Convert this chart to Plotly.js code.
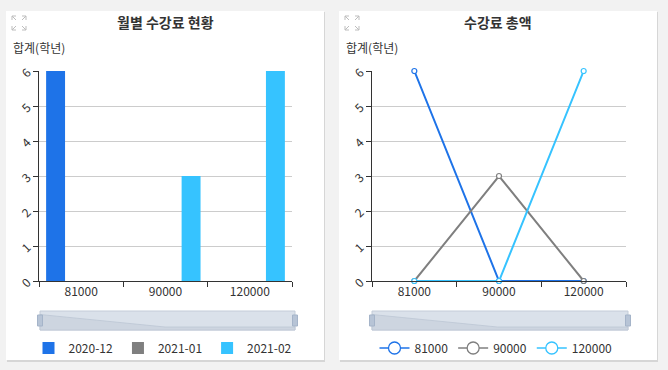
<!DOCTYPE html>
<html><head><meta charset="utf-8">
<script src="https://cdn.plot.ly/plotly-3.0.1.min.js"></script>
<style>html,body{margin:0;padding:0;background:#f2f2f2;}#chart{width:668px;height:370px;}</style>
</head><body><div id="chart"></div>
<script>
// ---- data ----
const categories = ['81000', '90000', '120000'];
const barSeriesNames = ['2020-12', '2021-01', '2021-02'];
const bar2020_12 = [6, 0, 0];
const bar2021_01 = [0, 0, 0];
const bar2021_02 = [0, 3, 6];
const lineSeriesNames = ['81000', '90000', '120000'];
const line81000 = [6, 0, 0];
const line90000 = [0, 3, 0];
const line120000 = [0, 0, 6];
const leftTitle = '월별 수강료 현황';
const rightTitle = '수강료 총액';
const yLabel = '합계(학년)';

const colors = ['#1e73e8', '#7f7f7f', '#36c3ff'];
const W = 668, H = 370;
const px = x => x / W, py = y => 1 - y / H;
const FONT = '"Noto Sans CJK KR", "Noto Sans", sans-serif';

const barVals = [bar2020_12, bar2021_01, bar2021_02];
const lineVals = [line81000, line90000, line120000];

const traces = [];
barVals.forEach((v, i) => traces.push({
  type: 'bar', x: categories, y: v, name: barSeriesNames[i],
  marker: {color: colors[i]}, xaxis: 'x', yaxis: 'y', legend: 'legend',
  hoverinfo: 'x+y+name'
}));
lineVals.forEach((v, i) => traces.push({
  type: 'scatter', mode: 'lines+markers', x: categories, y: v, name: lineSeriesNames[i],
  line: {color: colors[i], width: 2},
  marker: {symbol: 'circle', size: 5, color: '#ffffff', line: {color: colors[i], width: 1.2}},
  xaxis: 'x2', yaxis: 'y2', showlegend: false, legendgroup: 'g' + i, cliponaxis: false
}));
// legend entries for the line series (linked to the series through legendgroup)
lineSeriesNames.forEach((n, i) => traces.push({
  type: 'scatter', mode: 'lines+markers', x: [null], y: [null], name: n,
  line: {color: colors[i], width: 1.3},
  marker: {symbol: 'circle', size: 12, color: '#ffffff', line: {color: colors[i], width: 1.3}},
  xaxis: 'x2', yaxis: 'y2', legend: 'legend2', legendgroup: 'g' + i, hoverinfo: 'skip'
}));

const shapes = [];
function card(x0, x1) {
  shapes.push({type: 'rect', xref: 'paper', yref: 'paper', layer: 'below',
    x0: px(x0 + 1), x1: px(x1 + 1), y0: py(362), y1: py(12), fillcolor: '#d6d6d6', line: {width: 0}});
  shapes.push({type: 'rect', xref: 'paper', yref: 'paper', layer: 'below',
    x0: px(x0), x1: px(x1), y0: py(360), y1: py(11), fillcolor: '#ffffff', line: {width: 0}});
}
card(6, 324); card(339, 657);

function icon(x, y) {
  const c = '#bdbdbd';
  const segs = [
    [[x, y + 4], [x, y], [x + 4, y]], [[x, y], [x + 4, y + 4]],
    [[x + 14, y + 4], [x + 14, y], [x + 10, y]], [[x + 14, y], [x + 10, y + 4]],
    [[x, y + 10], [x, y + 14], [x + 4, y + 14]], [[x, y + 14], [x + 4, y + 10]],
    [[x + 14, y + 10], [x + 14, y + 14], [x + 10, y + 14]], [[x + 14, y + 14], [x + 10, y + 10]]
  ];
  segs.forEach(s => {
    const d = 'M' + s.map(p => px(p[0]) + ',' + py(p[1])).join('L');
    shapes.push({type: 'path', xref: 'paper', yref: 'paper', path: d, line: {color: c, width: 1}});
  });
}
icon(12, 16); icon(345, 16);

function slider(x0, x1) {
  const y0 = 311, y1 = 330;
  shapes.push({type: 'rect', xref: 'paper', yref: 'paper', x0: px(x0), x1: px(x1), y0: py(y1), y1: py(y0),
    fillcolor: '#dae1ea', line: {color: '#c3ccd8', width: 1}});
  const mid = x0 + (x1 - x0) * 0.49;
  const d = 'M' + px(x0) + ',' + py(314.5) + 'L' + px(mid) + ',' + py(327) + 'L' + px(x1) + ',' + py(327) +
    'L' + px(x1) + ',' + py(330) + 'L' + px(x0) + ',' + py(330) + 'Z';
  shapes.push({type: 'path', xref: 'paper', yref: 'paper', path: d, fillcolor: '#cdd5e0', line: {color: '#bcc6d4', width: 0.8}});
  [x0, x1].forEach(hx => {
    shapes.push({type: 'rect', xref: 'paper', yref: 'paper', x0: px(hx - 2.5), x1: px(hx + 2.5), y0: py(326), y1: py(315),
      fillcolor: '#b7c4d6', line: {color: '#a5b4c9', width: 1}});
  });
}
slider(40, 295); slider(372, 628);

const annotations = [
  {text: '<b>' + leftTitle + '</b>', x: px(165), y: py(22), xref: 'paper', yref: 'paper', showarrow: false,
   font: {size: 14, color: '#333', family: FONT}, xanchor: 'center', yanchor: 'middle'},
  {text: '<b>' + rightTitle + '</b>', x: px(498), y: py(22), xref: 'paper', yref: 'paper', showarrow: false,
   font: {size: 14, color: '#333', family: FONT}, xanchor: 'center', yanchor: 'middle'},
  {text: yLabel, x: px(11), y: py(47), xref: 'paper', yref: 'paper', showarrow: false,
   font: {size: 12, color: '#333', family: FONT}, xanchor: 'left', yanchor: 'middle'},
  {text: yLabel, x: px(344), y: py(47), xref: 'paper', yref: 'paper', showarrow: false,
   font: {size: 12, color: '#333', family: FONT}, xanchor: 'left', yanchor: 'middle'}
];

const yaxisBase = {
  range: [0, 6], dtick: 1, showgrid: true, gridcolor: '#cccccc', gridwidth: 1,
  showline: true, linecolor: '#333', linewidth: 1, ticks: 'outside', ticklen: 5, tickcolor: '#333',
  tickangle: -45, ticklabelstandoff: 3, tickfont: {size: 12, color: '#333', family: FONT}, zeroline: false, fixedrange: true
};
const xaxisBase = {
  type: 'category', range: [-0.5, 2.5], tickson: 'boundaries', ticks: 'outside', ticklen: 5, tickcolor: '#333',
  showline: true, linecolor: '#333', linewidth: 1, showgrid: false, zeroline: false,
  tickfont: {size: 12, color: '#333', family: FONT}, fixedrange: true
};

const layout = {
  width: W, height: H, margin: {l: 0, r: 0, t: 0, b: 0, autoexpand: false},
  paper_bgcolor: '#f2f2f2', plot_bgcolor: 'rgba(0,0,0,0)',
  font: {family: FONT, color: '#333'},
  bargap: 0.09, bargroupgap: 0.26, barmode: 'group',
  xaxis: Object.assign({}, xaxisBase, {domain: [px(39), px(292)], anchor: 'y'}),
  yaxis: Object.assign({}, yaxisBase, {domain: [py(281), py(71)], anchor: 'x'}),
  xaxis2: Object.assign({}, xaxisBase, {domain: [px(372), px(626)], anchor: 'y2'}),
  yaxis2: Object.assign({}, yaxisBase, {domain: [py(281), py(71)], anchor: 'x2'}),
  legend: {orientation: 'h', x: px(163), xanchor: 'center', y: py(348), yanchor: 'middle',
    bgcolor: 'rgba(0,0,0,0)', font: {size: 12, color: '#333', family: FONT}, traceorder: 'normal'},
  legend2: {orientation: 'h', x: px(496), xanchor: 'center', y: py(348), yanchor: 'middle',
    bgcolor: 'rgba(0,0,0,0)', font: {size: 12, color: '#333', family: FONT}, traceorder: 'normal'},
  shapes: shapes, annotations: annotations, showlegend: true
};

Plotly.newPlot('chart', traces, layout, {displayModeBar: false});
</script></body></html>
